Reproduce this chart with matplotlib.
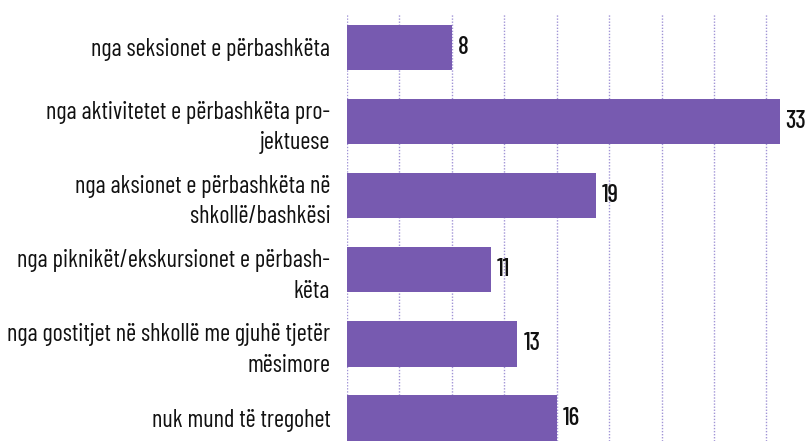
import matplotlib.pyplot as plt

# data
categories = [
    "nga seksionet e përbashkëta",
    "nga aktivitetet e përbashkëta pro-\njektuese",
    "nga aksionet e përbashkëta në\nshkollë/bashkësi",
    "nga piknikët/ekskursionet e përbash-\nkëta",
    "nga gostitjet në shkollë me gjuhë tjetër\nmësimore",
    "nuk mund të tregohet",
]
values = [8, 33, 19, 11, 13, 16]

plt.rcParams['font.family'] = ['Barlow Condensed', 'DejaVu Sans']

barColor = "#775AB0"
gridColor = "#A194D6"

fig = plt.figure(figsize=(8.11, 4.41), dpi=100)
ax = fig.add_axes([347 / 811, 0, 1 - 347 / 811, 1 - 14 / 441])

y = list(range(len(categories)))
ax.barh(y, values, height=0.61, color=barColor, zorder=2)

for i, v in enumerate(values):
    ax.text(v + 0.45, i, str(v), va="center", ha="left", fontsize=18,
            fontweight="medium", color="#111111")

ax.set_xlim(0, 35.4)
ax.set_ylim(5.31, -0.452)
ax.set_xticks(range(0, 36, 4))
ax.xaxis.grid(True, linestyle=(0, (1, 1.2)), color=gridColor, linewidth=1, zorder=0)
ax.tick_params(axis="x", length=0, labelbottom=False)
ax.set_yticks(y)
ax.set_yticklabels(categories, fontsize=17.5, color="#111111", linespacing=1.4)
ax.tick_params(axis="y", length=0, pad=12)
for lbl in ax.get_yticklabels():
    lbl.set_horizontalalignment("right")
    lbl.set_multialignment("right")
for s in ax.spines.values():
    s.set_visible(False)

fig.savefig("out.png", dpi=100)
